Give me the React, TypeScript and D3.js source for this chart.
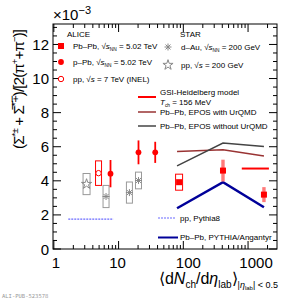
import React from 'react';
import * as d3 from 'd3';

// ALICE Pb-Pb 5.02 TeV
const pbpbX = [86, 410, 1760];
const pbpbY = [3.92, 4.6, 3.19];
const pbpbErr = [0.47, 0.64, 0.44];
// ALICE p-Pb 5.02 TeV
const ppbX = [7.5, 20.3, 36.8];
const ppbY = [4.42, 5.67, 5.67];
const ppbErr = [0.8, 0.7, 0.62];
// ALICE pp 7 TeV
const ppAliceX = [4.9];
const ppAliceY = [4.45];
const ppAliceErr = [0.72];
// STAR d-Au and pp 200 GeV
const starDAuX = [6.4, 14.7, 20.3];
const starDAuY = [3.08, 3.31, 4.02];
const starDAuErr = [0.65, 0.62, 0.49];
const starPpX = [3.2];
const starPpY = [3.81];
const starPpErr = [0.62];
// models
const modelX = [80, 410, 1760];
const eposUrqmd = [5.72, 5.82, 5.45];
const eposNoUrqmd = [4.88, 6.22, 6.02];
const angantyr = [2.39, 3.92, 2.45];
const gsiX = [800, 2100];
const gsiY = [4.72, 4.72];
const pythiaPpX = [1.67, 8.3];
const pythiaPpY = [1.75, 1.75];

const yTicks = [0, 2, 4, 6, 8, 10, 12];
const xTicks = [1, 10, 100, 1000];

const W = 286;
const H = 301;
const L = 53, R = 277, T = 24, B = 249;
const font = 'Liberation Sans, Arial, Helvetica, sans-serif';
const RED = '#ff0000';

const x = d3.scaleLog().domain([0.97, 2800]).range([L, R]);
const y = d3.scaleLinear().domain([0, 13.2]).range([B, T]);

const zip = (xs: number[], ys: number[]) => xs.map((v, i) => [v, ys[i]] as [number, number]);
const line = d3.line<[number, number]>().x((d) => x(d[0])).y((d) => y(d[1]));

const Asterisk = ({ cx, cy, r = 3.5, color = '#888' }: any) => (
  <g stroke={color} strokeWidth={1}>
    {[0, 45, 90, 135].map((a) => {
      const rad = (a * Math.PI) / 180;
      return (
        <line key={a} x1={cx - r * Math.cos(rad)} y1={cy - r * Math.sin(rad)} x2={cx + r * Math.cos(rad)} y2={cy + r * Math.sin(rad)} />
      );
    })}
  </g>
);

const starPath = d3.symbol(d3.symbolStar, 32)() as string;

const Sqrt = ({ sub }: { sub?: string }) => (
  <>
    <tspan>√</tspan>
    <tspan fontStyle="italic">s</tspan>
    {sub && (
      <tspan fontSize={4.8} dy={1.5}>
        {sub}
      </tspan>
    )}
    {sub && <tspan dy={-1.5}> </tspan>}
  </>
);

export default function App() {
  const xMinor: number[] = [];
  for (let e = 0; e <= 3; e++) {
    for (let k = 2; k <= 9; k++) {
      const v = k * Math.pow(10, e);
      if (v <= 2800) xMinor.push(v);
    }
  }
  const yMinor = d3.range(0, 13.2, 0.5).filter((v) => v % 2 !== 0);
  const fs = 8;

  return (
    <svg width={W} height={H} style={{ position: 'absolute', left: 0, top: 0, background: '#fff' }} fontFamily={font}>
      {/* frame */}
      <rect x={L} y={T} width={R - L} height={B - T} fill="none" stroke="#000" strokeWidth={1} />

      {/* y ticks */}
      {yTicks.map((t) => (
        <g key={t}>
          <line x1={L} x2={L + 8} y1={y(t)} y2={y(t)} stroke="#000" />
          <line x1={R} x2={R - 8} y1={y(t)} y2={y(t)} stroke="#000" />
          <text x={L - 4} y={y(t) + 5.5} fontSize={15} textAnchor="end">
            {t}
          </text>
        </g>
      ))}
      {yMinor.map((t) => (
        <g key={'m' + t}>
          <line x1={L} x2={L + 4} y1={y(t)} y2={y(t)} stroke="#000" />
          <line x1={R} x2={R - 4} y1={y(t)} y2={y(t)} stroke="#000" />
        </g>
      ))}

      {/* x ticks */}
      {xTicks.map((t) => (
        <g key={t}>
          <line x1={x(t)} x2={x(t)} y1={B} y2={B - 8} stroke="#000" />
          <line x1={x(t)} x2={x(t)} y1={T} y2={T + 8} stroke="#000" />
        </g>
      ))}
      {xMinor.map((t) => (
        <g key={'xm' + t}>
          <line x1={x(t)} x2={x(t)} y1={B} y2={B - 4} stroke="#000" />
          <line x1={x(t)} x2={x(t)} y1={T} y2={T + 4} stroke="#000" />
        </g>
      ))}
      {xTicks.map((t, i) => (
        <text key={'xl' + t} x={x(t) + [2, -1, 5, 8][i]} y={267.5} fontSize={15} textAnchor="middle">
          {t}
        </text>
      ))}

      {/* exponent */}
      <text x={L} y={20} fontSize={15}>
        ×10
        <tspan fontSize={11} dy={-6}>
          −3
        </tspan>
      </text>

      {/* y title */}
      <text transform="translate(24,89) rotate(-90)" fontSize={15} textAnchor="middle" textLength={120} lengthAdjust="spacing">
        (Σ<tspan fontSize={9.5} dy={-6}>*±</tspan>
        <tspan dy={6}> + Σ̅</tspan>
        <tspan fontSize={9.5} dy={-6}>*∓</tspan>
        <tspan dy={6}>)/[2(π</tspan>
        <tspan fontSize={9.5} dy={-6}>+</tspan>
        <tspan dy={6}>+π</tspan>
        <tspan fontSize={9.5} dy={-6}>−</tspan>
        <tspan dy={6}>)]</tspan>
      </text>

      {/* x title */}
      <text x={278} y={284} fontSize={16} textAnchor="end">
        ⟨d<tspan fontStyle="italic">N</tspan>
        <tspan fontSize={10} dy={4}>ch</tspan>
        <tspan dy={-4}>/d</tspan>
        <tspan fontStyle="italic">η</tspan>
        <tspan fontSize={10} dy={4}>lab</tspan>
        <tspan dy={-4}>⟩</tspan>
        <tspan fontSize={9} dy={4}>|</tspan>
        <tspan fontSize={9} fontStyle="italic">η</tspan>
        <tspan fontSize={6} dy={2}>lab</tspan>
        <tspan fontSize={9} dy={-2}>| &lt; 0.5</tspan>
      </text>

      <text x={2} y={298} fontSize={5.5} fill="#999" fontFamily="DejaVu Sans Mono, monospace">
        ALI-PUB-523578
      </text>

      {/* models */}
      <path d={line(zip(pythiaPpX, pythiaPpY)) as string} fill="none" stroke="#6a6aff" strokeWidth={1.2} strokeDasharray="2,1" />
      <path d={line(zip(modelX, eposUrqmd)) as string} fill="none" stroke="#993333" strokeWidth={1.5} />
      <path d={line(zip(modelX, eposNoUrqmd)) as string} fill="none" stroke="#444" strokeWidth={1.5} />
      <path d={line(zip(modelX, angantyr)) as string} fill="none" stroke="#000099" strokeWidth={2.5} />
      <path d={line(zip(gsiX, gsiY)) as string} fill="none" stroke={RED} strokeWidth={2} />

      {/* STAR */}
      {starDAuX.map((v, i) => (
        <g key={'sd' + i}>
          <rect x={x(v) - 3} width={6} y={y(starDAuY[i] + starDAuErr[i])} height={y(starDAuY[i] - starDAuErr[i]) - y(starDAuY[i] + starDAuErr[i])} fill="none" stroke="#999" />
          <Asterisk cx={x(v)} cy={y(starDAuY[i])} />
        </g>
      ))}
      {starPpX.map((v, i) => (
        <g key={'sp' + i}>
          <rect x={x(v) - 3.5} width={7} y={y(starPpY[i] + starPpErr[i])} height={y(starPpY[i] - starPpErr[i]) - y(starPpY[i] + starPpErr[i])} fill="none" stroke="#999" />
          <path d={starPath} transform={`translate(${x(v)},${y(starPpY[i])})`} fill="none" stroke="#888" />
        </g>
      ))}

      {/* ALICE pp */}
      {ppAliceX.map((v, i) => (
        <g key={'pa' + i}>
          <rect x={x(v) - 3} width={6} y={y(ppAliceY[i] + ppAliceErr[i])} height={y(ppAliceY[i] - ppAliceErr[i]) - y(ppAliceY[i] + ppAliceErr[i])} fill="none" stroke={RED} />
          <circle cx={x(v)} cy={y(ppAliceY[i])} r={2.7} fill="#fff" stroke={RED} />
        </g>
      ))}

      {/* ALICE p-Pb */}
      {ppbX.map((v, i) => (
        <g key={'pb' + i}>
          <line x1={x(v)} x2={x(v)} y1={y(ppbY[i] + ppbErr[i])} y2={y(ppbY[i] - ppbErr[i])} stroke={RED} strokeWidth={1.8} />
          <circle cx={x(v)} cy={y(ppbY[i])} r={2.9} fill={RED} />
        </g>
      ))}

      {/* ALICE Pb-Pb */}
      {pbpbX.map((v, i) => (
        <g key={'pp' + i}>
          {i === 0 ? (
            <rect x={x(v) - 3.5} width={7} y={y(pbpbY[i] + pbpbErr[i])} height={y(pbpbY[i] - pbpbErr[i]) - y(pbpbY[i] + pbpbErr[i])} fill="none" stroke={RED} />
          ) : (
            <rect x={x(v) - 1.7} width={3.4} y={y(pbpbY[i] + pbpbErr[i])} height={y(pbpbY[i] - pbpbErr[i]) - y(pbpbY[i] + pbpbErr[i])} fill="#ff7a7a" />
          )}
          <rect x={x(v) - 3} y={y(pbpbY[i]) - 3} width={6} height={6} fill={RED} />
        </g>
      ))}

      {/* legend */}
      <g fontSize={fs}>
        <text x={67} y={37}>ALICE</text>
        <rect x={58} y={43} width={6} height={6} fill={RED} />
        <text x={73} y={49}>
          Pb–Pb, <Sqrt sub="NN" />= 5.02 TeV
        </text>
        <circle cx={61} cy={62} r={2.9} fill={RED} />
        <text x={73} y={65}>
          p–Pb, <Sqrt sub="NN" />= 5.02 TeV
        </text>
        <circle cx={61} cy={79} r={2.7} fill="#fff" stroke={RED} />
        <text x={73} y={82}>
          pp, <Sqrt /> = 7 TeV (INEL)
        </text>

        <text x={180} y={37}>STAR</text>
        <Asterisk cx={168} cy={47} />
        <text x={181} y={50}>
          d–Au, <Sqrt sub="NN" />= 200 GeV
        </text>
        <path d={starPath} transform="translate(168,65)" fill="none" stroke="#888" />
        <text x={181} y={68}>
          pp, <Sqrt /> = 200 GeV
        </text>

        <line x1={138} x2={156} y1={97} y2={97} stroke={RED} strokeWidth={2} />
        <text x={160} y={95}>GSI-Heidelberg model</text>
        <text x={160} y={105}>
          <tspan fontStyle="italic">T</tspan>
          <tspan fontSize={4.8} dy={1.5}>ch</tspan>
          <tspan dy={-1.5}> = 156 MeV</tspan>
        </text>
        <line x1={138} x2={156} y1={112} y2={112} stroke="#993333" strokeWidth={1.5} />
        <text x={160} y={114.5}>Pb–Pb, EPOS with UrQMD</text>
        <line x1={138} x2={156} y1={126} y2={126} stroke="#444" strokeWidth={1.5} />
        <text x={160} y={128.5}>Pb–Pb, EPOS without UrQMD</text>

        <line x1={158} x2={176} y1={218} y2={218} stroke="#6a6aff" strokeWidth={1.2} strokeDasharray="2,1" />
        <text x={180} y={220.5}>pp, Pythia8</text>
        <line x1={158} x2={178} y1={237.5} y2={237.5} stroke="#000099" strokeWidth={2} />
        <text x={180} y={240}>Pb–Pb, PYTHIA/Angantyr</text>
      </g>
    </svg>
  );
}
